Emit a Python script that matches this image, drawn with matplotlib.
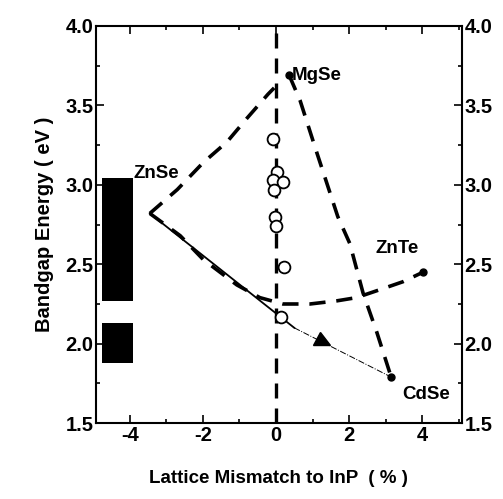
import numpy as np
import matplotlib
matplotlib.use("Agg")
import matplotlib.pyplot as plt
from matplotlib.markers import MarkerStyle
from matplotlib.transforms import Affine2D
from matplotlib.ticker import MultipleLocator

plt.rcParams['font.family'] = ['Liberation Sans', 'DejaVu Sans']
plt.rcParams['font.weight'] = 'bold'
plt.rcParams['axes.unicode_minus'] = False

# binary end points (lattice mismatch %, bandgap eV)
compounds = ['ZnSe', 'MgSe', 'ZnTe', 'CdSe']
comp_x = [-3.45, 0.36, 4.02, 3.15]
comp_y = [2.82, 3.69, 2.45, 1.79]

# ZnSe - MgSe branch
mg_x = [-3.45, -2.70, -1.99, -1.34, -0.79, -0.22, -0.05]
mg_y = [2.82, 2.97, 3.14, 3.27, 3.42, 3.57, 3.61]

# MgSe - CdSe branch
mc_x = [0.36, 0.66, 1.12, 1.69, 2.02, 2.38, 2.76, 3.15]
mc_y = [3.69, 3.53, 3.20, 2.80, 2.63, 2.32, 2.07, 1.79]

# ZnSe - ZnTe bowing curve
zt_x = [-3.45, -2.62, -1.99, -1.07, -0.44, 0.19, 0.93, 1.67, 2.20, 2.84, 3.47, 4.02]
zt_y = [2.82, 2.68, 2.53, 2.37, 2.29, 2.25, 2.25, 2.27, 2.29, 2.34, 2.39, 2.45]

# ZnSe - CdSe: solid up to lattice match region, thin beyond
zc_solid_x = [-3.45, 0.50]
zc_solid_y = [2.82, 2.10]
zc_thin_x = [0.50, 3.15]
zc_thin_y = [2.10, 1.79]
arrow_x, arrow_y = 1.28, 2.01

# measured samples near lattice match
meas_x = [-0.07, 0.02, -0.09, 0.18, -0.05, -0.03, 0.00, 0.23, 0.15]
meas_y = [3.29, 3.08, 3.03, 3.02, 2.97, 2.80, 2.74, 2.48, 2.17]

# blocked energy ranges on the left
blocks = [(2.27, 3.04), (1.88, 2.13)]

fig = plt.figure(figsize=(5.03, 4.99), dpi=100)
ax = fig.add_axes([0.191, 0.152, 0.727, 0.796])

for lo, hi in blocks:
    ax.fill_between([-4.75, -3.92], lo, hi, color='black', lw=0)

dash = (0, (4.5, 3))
ax.axvline(0, color='black', lw=2.4, ls=dash)
ax.plot(mg_x, mg_y, color='black', lw=2.6, ls=dash)
ax.plot(mc_x, mc_y, color='black', lw=2.6, ls=dash)
ax.plot(zt_x, zt_y, color='black', lw=2.6, ls=dash)
ax.plot(zc_solid_x, zc_solid_y, color='black', lw=1.3)
ax.plot(zc_thin_x, zc_thin_y, color='black', lw=0.7, ls='-.')

angle = np.degrees(np.arctan2((zc_thin_y[1] - zc_thin_y[0]) * 158.8,
                              (zc_thin_x[1] - zc_thin_x[0]) * 36.6))
tri = MarkerStyle('>', transform=Affine2D().rotate_deg(angle))
ax.plot([arrow_x], [arrow_y], marker=tri, color='black', ms=11, ls='none')

ax.plot(comp_x[1:], comp_y[1:], 'o', color='black', ms=5)
ax.plot(meas_x, meas_y, 'o', mfc='white', mec='black', mew=1.3, ms=8.5)

lbl = dict(fontsize=13.5, fontweight='bold', va='center', ha='left')
ax.text(-3.9, 3.07, 'ZnSe', **lbl)
ax.text(0.44, 3.69, 'MgSe', **lbl)
ax.text(2.72, 2.60, 'ZnTe', **lbl)
ax.text(3.45, 1.68, 'CdSe', **lbl)

ax.set_xlim(-4.92, 5.08)
ax.set_ylim(1.5, 4.0)
ax.xaxis.set_major_locator(MultipleLocator(2))
ax.xaxis.set_minor_locator(MultipleLocator(1))
ax.yaxis.set_major_locator(MultipleLocator(0.5))
ax.yaxis.set_minor_locator(MultipleLocator(0.25))
ax.yaxis.set_major_formatter(plt.FormatStrFormatter('%.1f'))
ax.tick_params(which='both', direction='in', top=True, right=True,
               labelright=True, labelsize=14.5, width=1.2)
ax.tick_params(which='major', length=6, pad=2)
ax.tick_params(which='minor', length=3)
for s in ax.spines.values():
    s.set_linewidth(1.5)

ax.set_xlabel('Lattice Mismatch to InP  ( % )', fontsize=13.5, fontweight='bold', labelpad=18)
ax.set_ylabel('Bandgap Energy ( eV )', fontsize=14.5, fontweight='bold', labelpad=8)

fig.savefig('out.png', dpi=100)
